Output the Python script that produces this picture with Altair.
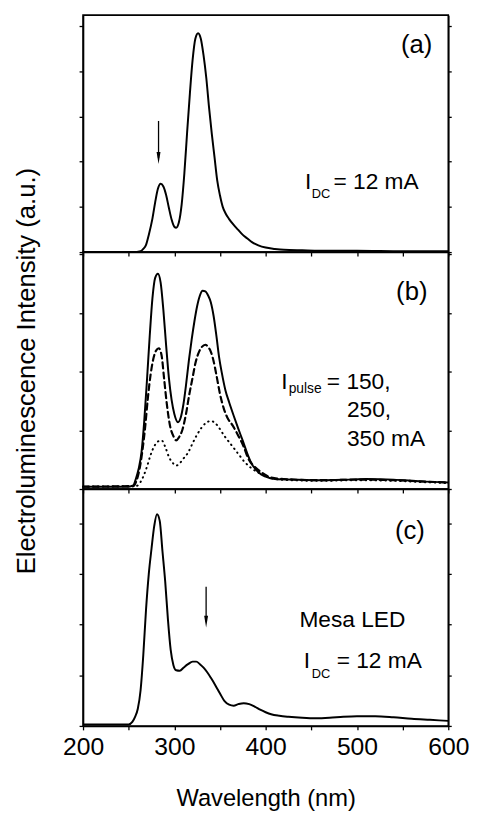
import altair as alt
import pandas as pd

FONT = "Liberation Sans"

# ---------------- data ----------------
# Panel (a): I_DC = 12 mA
wl_a = [200, 230, 255, 263, 266, 269, 272, 276, 279, 282, 285, 288, 291, 294, 297, 300, 302,
        305, 308, 311, 314, 317, 320, 323, 326, 329, 332, 335, 338, 341, 344, 347, 350, 353,
        356, 360, 365, 370, 375, 380, 385, 392, 400, 410, 420, 440, 470, 500, 550, 600]
int_a = [0.0, 0.0, 0.0, 0.02, 0.07, 0.16, 0.38, 0.74, 1.10, 1.40, 1.51, 1.45, 1.26, 0.98, 0.72,
         0.56, 0.54, 0.66, 1.05, 1.75, 2.65, 3.50, 4.25, 4.72, 4.84, 4.72, 4.35, 3.85, 3.20,
         2.62, 2.10, 1.58, 1.25, 1.00, 0.86, 0.73, 0.60, 0.49, 0.38, 0.30, 0.22, 0.15, 0.10,
         0.07, 0.05, 0.04, 0.03, 0.03, 0.02, 0.02]

# Panel (b): I_pulse = 350 mA (solid), 250 mA (dashed), 150 mA (dotted)
wl_b350 = [200, 250, 255, 258, 261, 264, 267, 270, 273, 276, 279, 282, 285, 288, 291, 294, 297,
           300, 304, 307, 310, 313, 316, 319, 322, 325, 328, 331, 334, 337, 340, 343, 346, 349,
           352, 356, 360, 365, 370, 375, 380, 385, 390, 395, 400, 410, 430, 460, 490, 510, 540,
           570, 600]
int_b350 = [0.04, 0.04, 0.06, 0.18, 0.35, 0.62, 1.15, 1.85, 2.60, 3.25, 3.60, 3.67, 3.52, 3.05,
            2.45, 1.90, 1.52, 1.28, 1.14, 1.22, 1.45, 1.80, 2.20, 2.55, 2.86, 3.12, 3.30, 3.38,
            3.37, 3.30, 3.18, 2.95, 2.62, 2.25, 1.98, 1.68, 1.48, 1.25, 1.03, 0.82, 0.60, 0.42,
            0.32, 0.25, 0.21, 0.17, 0.16, 0.15, 0.16, 0.17, 0.16, 0.13, 0.11]

wl_b250 = [200, 255, 258, 262, 265, 268, 271, 274, 277, 280, 283, 286, 289, 292, 295, 299, 302,
           305, 309, 313, 316, 320, 323, 326, 330, 334, 337, 340, 343, 346, 350, 354, 358, 364,
           370, 376, 381, 388, 395, 405, 420, 460, 500, 540, 570, 600]
int_b250 = [0.04, 0.05, 0.12, 0.35, 0.65, 1.05, 1.55, 1.95, 2.22, 2.36, 2.40, 2.28, 1.85, 1.42,
            1.10, 0.90, 0.83, 0.88, 1.02, 1.30, 1.58, 1.90, 2.14, 2.30, 2.42, 2.46, 2.42, 2.34,
            2.18, 1.95, 1.62, 1.38, 1.22, 1.08, 0.91, 0.72, 0.52, 0.38, 0.29, 0.20, 0.17, 0.15,
            0.16, 0.15, 0.13, 0.11]

wl_b150 = [200, 258, 263, 267, 270, 274, 278, 282, 286, 290, 294, 298, 302, 306, 310, 315, 320,
           325, 330, 335, 340, 345, 350, 355, 360, 365, 370, 377, 384, 392, 400, 410, 430, 460,
           500, 540, 570, 600]
int_b150 = [0.04, 0.05, 0.12, 0.25, 0.38, 0.58, 0.73, 0.81, 0.83, 0.72, 0.55, 0.45, 0.40, 0.44,
            0.52, 0.62, 0.78, 0.93, 1.05, 1.13, 1.16, 1.12, 1.02, 0.90, 0.80, 0.70, 0.60, 0.46,
            0.36, 0.28, 0.22, 0.17, 0.15, 0.14, 0.15, 0.14, 0.12, 0.10]

# Panel (c): Mesa LED, I_DC = 12 mA
wl_c = [200, 250, 254, 257, 260, 263, 266, 269, 272, 275, 278, 281, 284, 287, 290, 293, 296,
        299, 302, 306, 310, 315, 320, 324, 328, 332, 336, 340, 345, 350, 355, 360, 365, 370,
        376, 382, 388, 394, 400, 406, 415, 425, 440, 455, 470, 485, 500, 520, 540, 560, 580, 600]
int_c = [0.03, 0.03, 0.08, 0.18, 0.34, 0.70, 1.40, 2.30, 3.00, 3.50, 3.95, 4.18, 4.05, 3.45,
         2.85, 2.10, 1.50, 1.20, 1.10, 1.09, 1.15, 1.22, 1.27, 1.27, 1.22, 1.15, 1.06, 0.95,
         0.80, 0.64, 0.49, 0.42, 0.40, 0.43, 0.45, 0.43, 0.38, 0.32, 0.27, 0.23, 0.20, 0.18,
         0.16, 0.15, 0.16, 0.18, 0.19, 0.19, 0.17, 0.14, 0.12, 0.10]

x_ticks = [200, 250, 300, 350, 400, 450, 500, 550, 600]

y_domain_a = [0, 5.24]
y_domain_b = [0, 4.04]
y_domain_c = [0, 4.68]
y_ticks_a = [0, 1, 2, 3, 4, 5]
y_ticks_b = [0, 1, 2, 3, 4]
y_ticks_c = [0, 1, 2, 3, 4]

# annotations (wavelength, intensity, text)
ann_a_big = pd.DataFrame({"wl": [443.1, 474.3], "v": [1.39, 1.39], "t": ["I", "= 12 mA"]})
ann_a_sub = pd.DataFrame({"wl": [450.4], "v": [1.20], "t": ["DC"]})
ann_b_big = pd.DataFrame({"wl": [417.1, 467.0, 489.0, 489.0], "v": [1.71, 1.71, 1.22, 0.73],
                          "t": ["I", "= 150,", "250,", "350 mA"]})
ann_b_sub = pd.DataFrame({"wl": [425.2], "v": [1.63], "t": ["pulse"]})
ann_c_big = pd.DataFrame({"wl": [437.0, 441.7, 477.8], "v": [1.96, 1.15, 1.15],
                          "t": ["Mesa LED", "I", "= 12 mA"]})
ann_c_sub = pd.DataFrame({"wl": [450.4], "v": [0.94], "t": ["DC"]})
lab_a = pd.DataFrame({"wl": [565.3], "v": [4.57], "t": ["(a)"]})
lab_b = pd.DataFrame({"wl": [560.0], "v": [3.36], "t": ["(b)"]})
lab_c = pd.DataFrame({"wl": [558.0], "v": [3.85], "t": ["(c)"]})
arrow_a = pd.DataFrame({"wl": [282.7], "top": [2.90], "head": [2.08]})
arrow_c = pd.DataFrame({"wl": [334.8], "top": [2.75], "head": [2.06]})

W, H = 370, 240
ARROW_SHAPE = "M-0.33,-1L0.33,-1L0,1Z"


def xenc(bottom):
    if bottom:
        ax = alt.Axis(values=x_ticks, labelExpr="datum.value % 100 == 0 ? datum.label : ''",
                      title="Wavelength (nm)", tickSize=4, labelFontSize=25, titleFontSize=24,
                      labelPadding=5, titlePadding=28, labelFlush=False, grid=False)
    else:
        ax = alt.Axis(values=x_ticks, labels=False, title=None, tickSize=4, grid=False)
    return alt.X("wl:Q", scale=alt.Scale(domain=[200, 600], nice=False, zero=False), axis=ax)


def yenc(field, domain, ticks, kind="none", title=None):
    if kind == "left":
        if title:
            ax = alt.Axis(values=ticks, labels=False, title=title, tickSize=4, titleFontSize=26,
                          titlePadding=40, grid=False)
        else:
            ax = alt.Axis(values=ticks, labels=False, title=None, tickSize=4, grid=False)
    elif kind == "right":
        ax = alt.Axis(orient="right", values=ticks, labels=False, title=None, tickSize=3,
                      grid=False)
    else:
        ax = None
    return alt.Y(field, scale=alt.Scale(domain=domain, nice=False, zero=False), axis=ax)


def curve(wl, vals, dash=None, width=2.0, opacity=1.0):
    df = pd.DataFrame({"wl": wl, "v": vals})
    kw = dict(color="black", strokeWidth=width, interpolate="monotone", opacity=opacity)
    if dash:
        kw["strokeDash"] = dash
        kw["strokeCap"] = "round"
    return alt.Chart(df).mark_line(**kw)


def texts(df, size, align="left", baseline="alphabetic"):
    return alt.Chart(df).mark_text(font=FONT, fontSize=size, align=align, baseline=baseline,
                                   color="black")


def arrow(df):
    rule = alt.Chart(df).mark_rule(color="black", strokeWidth=1.3)
    head = alt.Chart(df).mark_point(shape=ARROW_SHAPE, filled=True, color="black", size=144,
                                    opacity=1)
    return rule, head


# ---- panel (a)
Xa = xenc(False)
Yn = yenc("v:Q", y_domain_a, y_ticks_a)
ra, ha = arrow(arrow_a)
panel_a = alt.layer(
    curve(wl_a, int_a).encode(x=Xa, y=yenc("v:Q", y_domain_a, y_ticks_a, "left")),
    curve(wl_a, int_a, opacity=0).encode(x=Xa, y=yenc("v:Q", y_domain_a, y_ticks_a, "right")),
    ra.encode(x=Xa, y=yenc("top:Q", y_domain_a, y_ticks_a), y2="head:Q"),
    ha.encode(x=Xa, y=yenc("head:Q", y_domain_a, y_ticks_a)),
    texts(ann_a_big, 23).encode(x=Xa, y=Yn, text="t:N"),
    texts(ann_a_sub, 13).encode(x=Xa, y=Yn, text="t:N"),
    texts(lab_a, 26, align="center", baseline="middle").encode(x=Xa, y=Yn, text="t:N"),
).resolve_axis(y="independent").properties(width=W, height=H)

# ---- panel (b)
Xb = xenc(False)
Yb = yenc("v:Q", y_domain_b, y_ticks_b)
panel_b = alt.layer(
    curve(wl_b350, int_b350).encode(
        x=Xb, y=yenc("v:Q", y_domain_b, y_ticks_b, "left",
                     title="Electroluminescence Intensity (a.u.)")),
    curve(wl_b350, int_b350, opacity=0).encode(
        x=Xb, y=yenc("v:Q", y_domain_b, y_ticks_b, "right")),
    curve(wl_b250, int_b250, dash=[6, 4], width=2.2).encode(x=Xb, y=Yb),
    curve(wl_b150, int_b150, dash=[0.5, 4.5], width=2.0).encode(x=Xb, y=Yb),
    texts(ann_b_big, 23).encode(x=Xb, y=Yb, text="t:N"),
    texts(ann_b_sub, 14).encode(x=Xb, y=Yb, text="t:N"),
    texts(lab_b, 26, align="center", baseline="middle").encode(x=Xb, y=Yb, text="t:N"),
).resolve_axis(y="independent").properties(width=W, height=H)

# ---- panel (c)
Xc = xenc(True)
Yc = yenc("v:Q", y_domain_c, y_ticks_c)
rc, hc = arrow(arrow_c)
panel_c = alt.layer(
    curve(wl_c, int_c).encode(x=Xc, y=yenc("v:Q", y_domain_c, y_ticks_c, "left")),
    curve(wl_c, int_c, opacity=0).encode(x=Xc, y=yenc("v:Q", y_domain_c, y_ticks_c, "right")),
    rc.encode(x=Xc, y=yenc("top:Q", y_domain_c, y_ticks_c), y2="head:Q"),
    hc.encode(x=Xc, y=yenc("head:Q", y_domain_c, y_ticks_c)),
    texts(ann_c_big, 23).encode(x=Xc, y=Yc, text="t:N"),
    texts(ann_c_sub, 13).encode(x=Xc, y=Yc, text="t:N"),
    texts(lab_c, 26, align="center", baseline="middle").encode(x=Xc, y=Yc, text="t:N"),
).resolve_axis(y="independent").properties(width=W, height=H)

chart = alt.vconcat(panel_a, panel_b, panel_c, spacing=0, bounds="flush").properties(
    padding={"left": 4, "top": 1, "right": 0, "bottom": 0},
    background="white",
).configure_view(
    stroke="black", strokeWidth=1.6
).configure_axis(
    domainColor="black", domainWidth=1.6, tickColor="black", tickWidth=1.3, grid=False,
    labelFont=FONT, titleFont=FONT, labelColor="black", titleColor="black",
    titleFontWeight="normal"
)

chart.save("out.html", embed_options={"renderer": "svg", "actions": False})
